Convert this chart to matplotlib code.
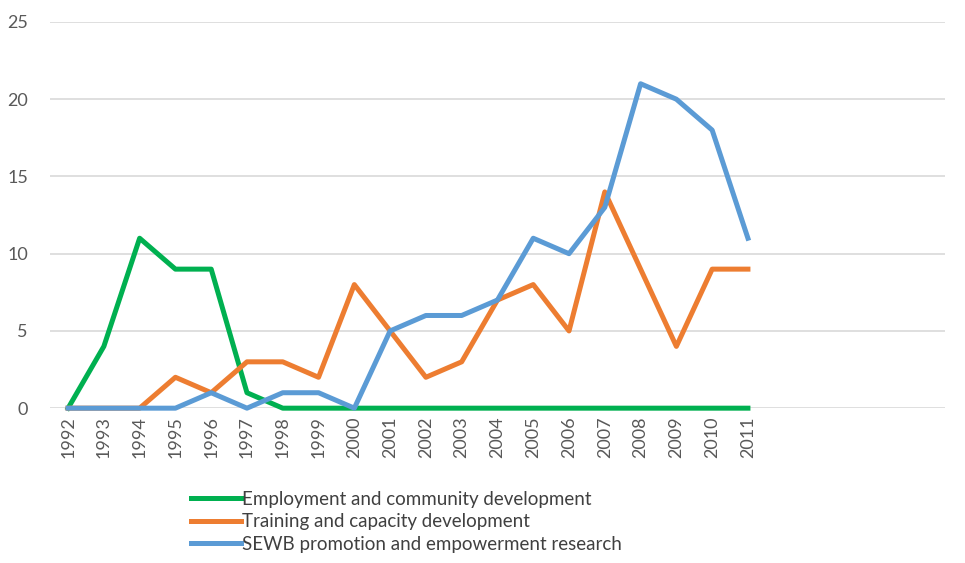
import matplotlib
matplotlib.use("Agg")
import matplotlib.pyplot as plt
import numpy as np

years = [str(y) for y in range(1992, 2012)]
n_slots = 25  # category axis keeps 5 empty slots on the right

employment = [0, 4, 11, 9, 9, 1, 0, 0, 0, 0, 0, 0, 0, 0, 0, 0, 0, 0, 0, 0]
training = [0, 0, 0, 2, 1, 3, 3, 2, 8, 5, 2, 3, 7, 8, 5, 14, 9, 4, 9, 9]
sewb = [0, 0, 0, 0, 1, 0, 1, 1, 0, 5, 6, 6, 7, 11, 10, 13, 21, 20, 18, 11]

labels = ["Employment and community development",
          "Training and capacity development",
          "SEWB promotion and empowerment research"]
colors = ["#00b050", "#ed7d31", "#5b9bd5"]

plt.rcParams['font.family'] = ['Lato', 'DejaVu Sans']

fig = plt.figure(figsize=(9.65, 5.63), dpi=100)
ax = fig.add_axes([0.052, 0.275, 0.927, 0.686])

x = np.arange(len(years))
for vals, lab, col in zip([employment, training, sewb], labels, colors):
    ax.plot(x, vals, color=col, linewidth=3.6, label=lab, clip_on=False)

ax.set_xlim(-0.5, n_slots - 0.5)
ax.set_ylim(0, 25)
ax.set_yticks(range(0, 26, 5))
ax.set_xticks(x)
ax.set_xticklabels(years, rotation=90)
ax.yaxis.grid(True, color="#d9d9d9", linewidth=1.2)
ax.set_axisbelow(True)
for s in ax.spines.values():
    s.set_visible(False)
ax.tick_params(axis='both', length=0, labelsize=13, colors="#595959")
ax.tick_params(axis='y', pad=16)
ax.tick_params(axis='x', pad=6)

fig.legend(loc='upper left', bbox_to_anchor=(0.188, 0.145), frameon=False,
           fontsize=13.5, handlelength=2.7, handletextpad=0.05, labelspacing=0.3,
           borderpad=0, labelcolor="#404040")

fig.savefig("out.png", dpi=100)
